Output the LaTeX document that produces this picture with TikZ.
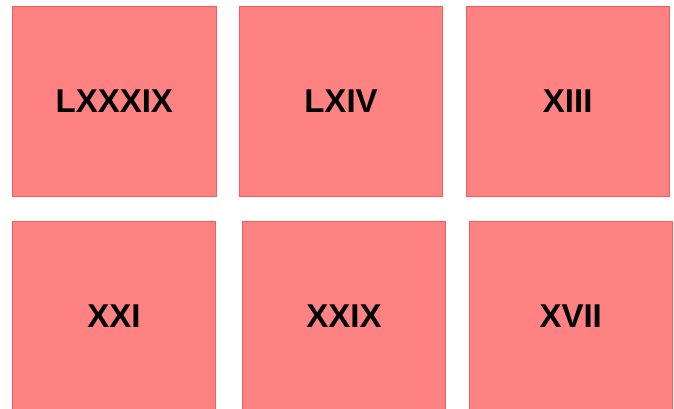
\documentclass[tikz,border=0pt]{standalone}
\usepackage{fontspec}
\setmainfont{Liberation Sans}
\definecolor{tilefill}{HTML}{FF8282}
\definecolor{tileedge}{HTML}{FF5A5A}
\tikzset{tile/.style={draw=tileedge,fill=tilefill,line width=0.9pt,minimum width=203.5pt,minimum height=189.5pt,inner sep=0pt,font=\fontsize{33}{33}\selectfont\bfseries}}

\begin{document}
\begin{tikzpicture}[x=1pt,y=-1pt] %One unit is one pixel of the 674x409 picture, y runs down
\useasboundingbox (0,0) rectangle (674,409); %Picture size
\clip (0,0) rectangle (674,409); %Bottom row runs off the lower edge
\node[tile] (lxxxix) at (114.3,101.3) {LXXXIX}; %Top left
\node[tile] (lxiv) at (341.0,101.3) {LXIV}; %Top middle
\node[tile] (xiii) at (567.7,101.3) {XIII}; %Top right
\node[tile] (xxi) at (114.0,316.0) {XXI}; %Bottom left
\node[tile] (xxix) at (344.0,316.0) {XXIX}; %Bottom middle
\node[tile] (xvii) at (570.7,316.0) {XVII}; %Bottom right
\end{tikzpicture}
\end{document}
